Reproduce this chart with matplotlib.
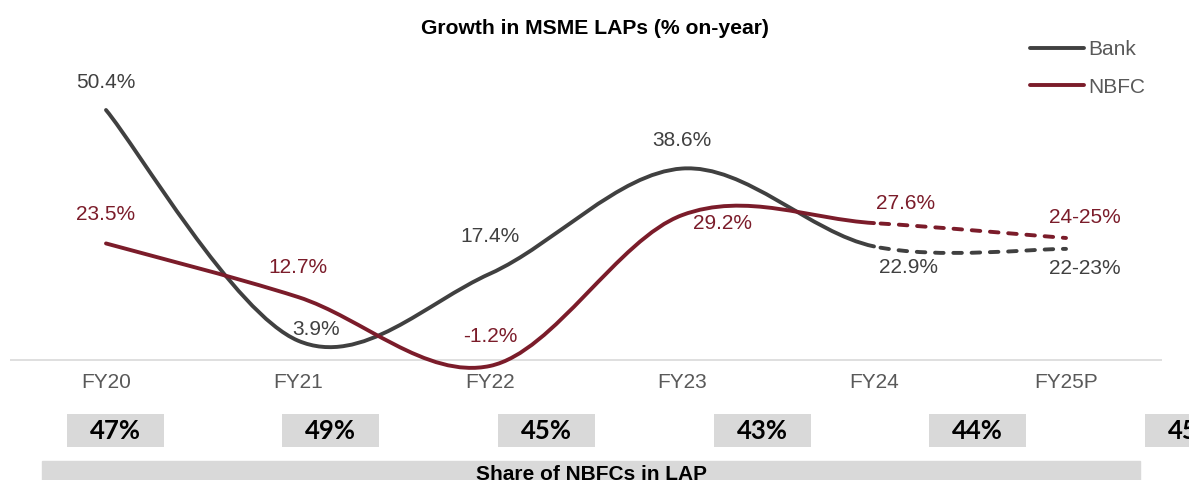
import matplotlib
matplotlib.use("Agg")
import matplotlib.pyplot as plt
from matplotlib.path import Path
from matplotlib.patches import PathPatch, Rectangle
from matplotlib.lines import Line2D
import numpy as np

plt.rcParams['font.family'] = ['Liberation Sans', 'DejaVu Sans']

# ---- data ----
categories = ["FY20", "FY21", "FY22", "FY23", "FY24", "FY25P"]
bank = [50.4, 3.9, 17.4, 38.6, 22.9, 22.4]
nbfc = [23.5, 12.7, -1.2, 29.2, 27.6, 24.6]
bank_labels = ["50.4%", "3.9%", "17.4%", "38.6%", "22.9%", "22-23%"]
nbfc_labels = ["23.5%", "12.7%", "-1.2%", "29.2%", "27.6%", "24-25%"]
nbfc_share = [47, 49, 45, 43, 44, 45]
title = "Growth in MSME LAPs (% on-year)"
share_title = "Share of NBFCs in LAP"

# ---- styles ----
BANK_C = "#404040"
NBFC_C = "#7b1c2a"
TXT_C = "#595959"
GRID_C = "#d9d9d9"
LW = 2.8
# label offsets in pixels (dx, dy)
bank_off = [(0, 28), (18, 11), (0, 37), (0, 28), (34, -21), (19, -20)]
nbfc_off = [(0, 29), (0, 30), (0, 29), (41, -8), (32, 20), (19, 20)]

W, H = 1189, 480
fig = plt.figure(figsize=(W / 100, H / 100), dpi=100)

ylo, yhi = -5, 55
ax = fig.add_axes([10 / W, 1 - 384.8 / H, 1152 / W, 297.6 / H])
ax.set_xlim(-0.5, len(categories) - 0.5)
ax.set_ylim(ylo, yhi)
ax.axis("off")
ax.axhline(0, color=GRID_C, lw=1.2, zorder=1)


def smooth_segments(vals):
    pts = np.column_stack([np.arange(len(vals), dtype=float), np.asarray(vals, float)])
    n = len(pts)
    segs = []
    for i in range(n - 1):
        p0 = pts[i - 1] if i > 0 else pts[i]
        p1 = pts[i]
        p2 = pts[i + 1]
        p3 = pts[i + 2] if i + 2 < n else pts[i + 1]
        c1 = p1 + (p2 - p0) / 6.0
        c2 = p2 - (p3 - p1) / 6.0
        segs.append((p1, c1, c2, p2))
    return segs


def draw_series(vals, color):
    segs = smooth_segments(vals)
    solid = segs[:-1]
    verts = [solid[0][0]]
    codes = [Path.MOVETO]
    for (p1, c1, c2, p2) in solid:
        verts += [c1, c2, p2]
        codes += [Path.CURVE4] * 3
    pp = PathPatch(Path(verts, codes), fill=False, edgecolor=color, lw=LW,
                   capstyle="round", joinstyle="round", zorder=3)
    ax.add_patch(pp)
    p1, c1, c2, p2 = segs[-1]
    dp = PathPatch(Path([p1, c1, c2, p2], [Path.MOVETO] + [Path.CURVE4] * 3),
                   fill=False, edgecolor=color, lw=LW, zorder=3,
                   linestyle=(3.0, (2.2, 2.5)))
    dp.set_capstyle("round")
    ax.add_patch(dp)


draw_series(bank, BANK_C)
draw_series(nbfc, NBFC_C)

for i, (v, lab, off) in enumerate(zip(bank, bank_labels, bank_off)):
    ax.annotate(lab, (i, v), xytext=off, textcoords="offset pixels",
                ha="center", va="center", fontsize=15, color=BANK_C,
                annotation_clip=False)
for i, (v, lab, off) in enumerate(zip(nbfc, nbfc_labels, nbfc_off)):
    ax.annotate(lab, (i, v), xytext=off, textcoords="offset pixels",
                ha="center", va="center", fontsize=15, color=NBFC_C,
                annotation_clip=False)

for i, c in enumerate(categories):
    ax.text(i, -23 / 4.96, c, ha="center", va="center", fontsize=15,
            color=TXT_C, clip_on=False)

# title
fig.text(595 / W, 1 - 28 / H, title, ha="center", va="center",
         fontsize=15.2, fontweight="bold", color="black")

# legend
handles = [Line2D([], [], color=BANK_C, lw=LW, solid_capstyle="round"),
           Line2D([], [], color=NBFC_C, lw=LW, solid_capstyle="round")]
leg = fig.legend(handles, ["Bank", "NBFC"], loc="upper left",
                 bbox_to_anchor=(1030 / W, 1 - 40 / H), frameon=False,
                 fontsize=15, handlelength=2.6, handletextpad=0.2,
                 labelspacing=0.9, borderpad=0, borderaxespad=0)
for t in leg.get_texts():
    t.set_color(TXT_C)

# share boxes (pixel-based overlay axes)
axb = fig.add_axes([0, 0, 1, 1])
axb.set_xlim(-115.2 / 215.6, (W - 115.2) / 215.6)
axb.set_ylim(H, 0)
axb.axis("off")
xs = np.arange(len(nbfc_share))
axb.bar(xs, 32.7, bottom=414, width=97 / 215.6, color=GRID_C, zorder=1)
for x, s in zip(xs, nbfc_share):
    axb.text(x, 431, f"{s}%", ha="center", va="center", fontsize=18.5,
             fontweight="bold", family="Lato", color="black", zorder=2)
axb.add_patch(Rectangle(((42 - 115.2) / 215.6, 461), (1140 - 42) / 215.6, 30,
                        color=GRID_C, zorder=1))
axb.text((591 - 115.2) / 215.6, 480, share_title, ha="center", va="baseline",
         fontsize=15, fontweight="bold", color="black", zorder=2)

fig.savefig("out.png", dpi=100)
